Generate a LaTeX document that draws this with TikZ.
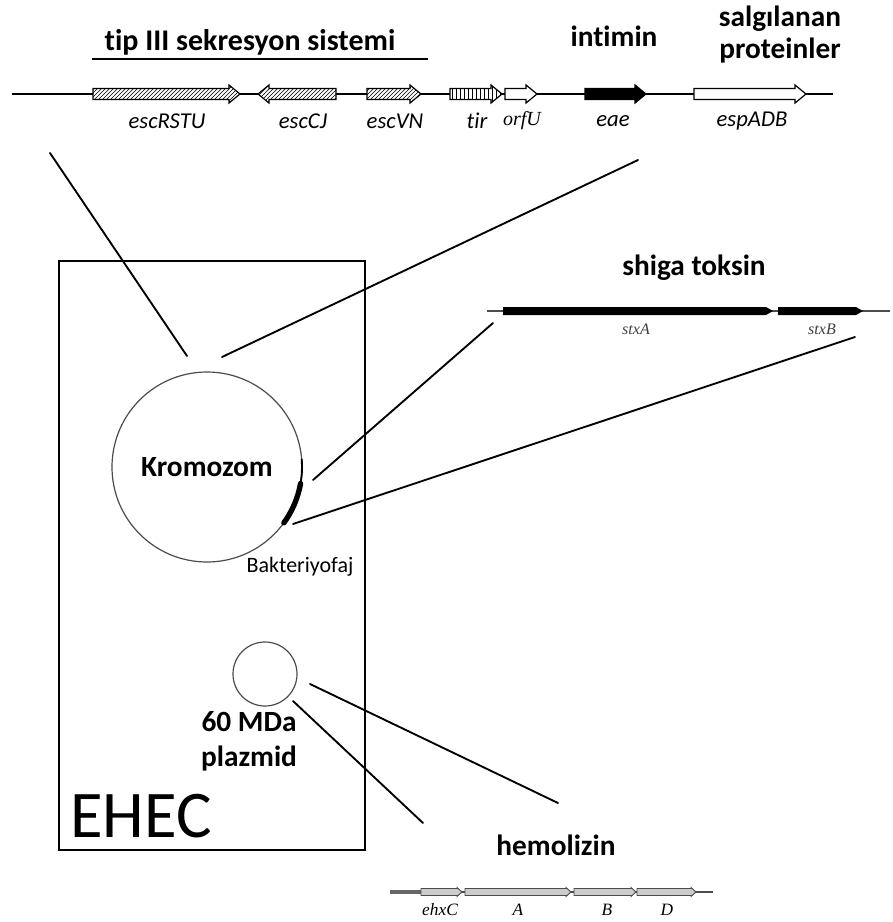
\documentclass[tikz,border=0pt]{standalone}
\usepackage{fontspec}
\setmainfont{Carlito}[Ligatures={NoCommon}]
\newfontfamily\serifit{Liberation Serif}
\usetikzlibrary{patterns}
\newcommand\gR[4]{\draw[#1] (#2,#4-5.5) -- (#3-11,#4-5.5) -- (#3-11,#4-9) -- (#3,#4) -- (#3-11,#4+9) -- (#3-11,#4+5.5) -- (#2,#4+5.5) -- cycle;}
\newcommand\gL[4]{\draw[#1] (#3,#4-5.5) -- (#2+11,#4-5.5) -- (#2+11,#4-9) -- (#2,#4) -- (#2+11,#4+9) -- (#2+11,#4+5.5) -- (#3,#4+5.5) -- cycle;}
\newcommand\hR[4]{\draw[#1] (#2,#4-3.5) -- (#3-5,#4-3.5) -- (#3-5,#4-4.5) -- (#3,#4) -- (#3-5,#4+4.5) -- (#3-5,#4+3.5) -- (#2,#4+3.5) -- cycle;}
\begin{document}
\begin{tikzpicture}[x=0.75pt,y=-0.75pt,
  lbl/.style={font=\bfseries\fontsize{22}{25}\selectfont, inner sep=0},
  gname/.style={font=\itshape\fontsize{17}{19}\selectfont, inner sep=0},
  sname/.style={font=\serifit\itshape\fontsize{12}{14}\selectfont, inner sep=0, text=black!75},
  hname/.style={font=\serifit\itshape\fontsize{13}{15}\selectfont, inner sep=0},
  conn/.style={line width=1.4pt, line cap=round},
  hatch/.style={draw, line width=0.9pt, preaction={fill=white}, pattern=north east lines},
  vhatch/.style={draw, line width=0.9pt, preaction={fill=white}, pattern=vertical lines},
  wgene/.style={draw, line width=0.9pt, fill=white},
  bgene/.style={draw, line width=0.9pt, fill=black},
  hgene/.style={draw=black!70, line width=0.7pt, fill=black!20}]
\useasboundingbox (0,0) rectangle (893,922);

% ---- top row: chromosome genes ----
\node[lbl, font=\bfseries\fontsize{22.5}{25}\selectfont] (t3ss) at (250,42) {tip III sekresyon sistemi};
\draw[line width=1.8pt] (92,59) -- (428,59);
\node[lbl] (intimin) at (614,36) {intimin};
\node[lbl] (salg) at (780,19) {salgılanan};
\node[lbl] (prot) at (780,51) {proteinler};
\draw[line width=1.2pt] (12,94) -- (833,94);
\gR{hatch}{93}{240}{94}
\gL{hatch}{258}{336}{94}
\gR{hatch}{367}{421}{94}
\gR{vhatch}{450}{502}{94}
\gR{wgene}{505}{537}{94}
\gR{bgene}{585}{646}{94}
\gR{wgene}{694}{806}{94}
\node[gname] (escRSTU) at (167,121) {escRSTU};
\node[gname] (escCJ) at (303,121) {escCJ};
\node[gname] (escVN) at (395,121) {escVN};
\node[gname] (tir) at (477,121) {tir};
\node[gname, font=\serifit\itshape\fontsize{15}{17}\selectfont] (orfU) at (522,121) {orfU};
\node[gname] (eae) at (613,121) {eae};
\node[gname] (espADB) at (752,121) {espADB};

% ---- EHEC cell ----
\draw[line width=1.2pt] (59,261) rectangle (365,850);
\node[font=\fontsize{50}{54}\selectfont, inner sep=0] (ehec) at (141,816) {EHEC};
\node[circle, draw=black!70, line width=0.9pt, minimum size=142.5pt, inner sep=0,
      font=\bfseries\fontsize{22}{25}\selectfont] (chrom) at (207,467) {Kromozom};
\draw[line width=4pt, line cap=round] ([shift={(10:95)}]chrom.center) arc[start angle=10, end angle=36, radius=95];
\draw[line width=1.4pt] ([shift={(-5:95)}]chrom.center) arc[start angle=-5, end angle=12, radius=95];
\node[font=\fontsize{16.5}{18}\selectfont, inner sep=0] (phage) at (300,567) {Bakteriyofaj};
\node[circle, draw=black!70, line width=0.9pt, minimum size=48pt, inner sep=0] (plasmid) at (265,674) {};
\node[lbl, align=center, font=\bfseries\fontsize{22}{26}\selectfont] (plname) at (249,741) {60 MDa\\plazmid};

% ---- shiga toxin ----
\node[lbl] (shiga) at (694,268) {shiga toksin};
\draw[line width=1.3pt, black!70] (487,311) -- (890,311);
\fill (503,307) -- (766,307) -- (773,311) -- (766,315) -- (503,315) -- cycle;
\fill (778,307) -- (856,307) -- (863,311) -- (856,315) -- (778,315) -- cycle;
\node[sname] (stxA) at (636,329) {stxA};
\node[sname] (stxB) at (822,329) {stxB};

% ---- hemolysin ----
\node[lbl] (hly) at (556,845) {hemolizin};
\draw[line width=1.1pt, black!70] (390,892) -- (713,892);
\draw[line width=2.5pt, black!60] (390,892) -- (421,892);
\hR{hgene}{421}{462}{892}
\hR{hgene}{465}{571}{892}
\hR{hgene}{574}{636}{892}
\hR{hgene}{637}{696}{892}
\node[hname] (ehxC) at (440,910) {ehxC};
\node[hname] (hA) at (518,910) {A};
\node[hname] (hB) at (607,910) {B};
\node[hname] (hD) at (667,910) {D};

% ---- connectors ----
\coordinate (c1a) at (187,356); \coordinate (c1b) at (50,153);
\coordinate (c2a) at (222,357); \coordinate (c2b) at (638,160);
\coordinate (s1a) at (313,480); \coordinate (s1b) at (493,323);
\coordinate (s2a) at (293,524); \coordinate (s2b) at (855,337);
\coordinate (p1a) at (310,684); \coordinate (p1b) at (558,803);
\coordinate (p2a) at (293,701); \coordinate (p2b) at (423,823);
\draw[conn] (c1a) -- (c1b);
\draw[conn] (c2a) -- (c2b);
\draw[conn] (s1a) -- (s1b);
\draw[conn] (s2a) -- (s2b);
\draw[conn] (p1a) -- (p1b);
\draw[conn] (p2a) -- (p2b);
\end{tikzpicture}
\end{document}
